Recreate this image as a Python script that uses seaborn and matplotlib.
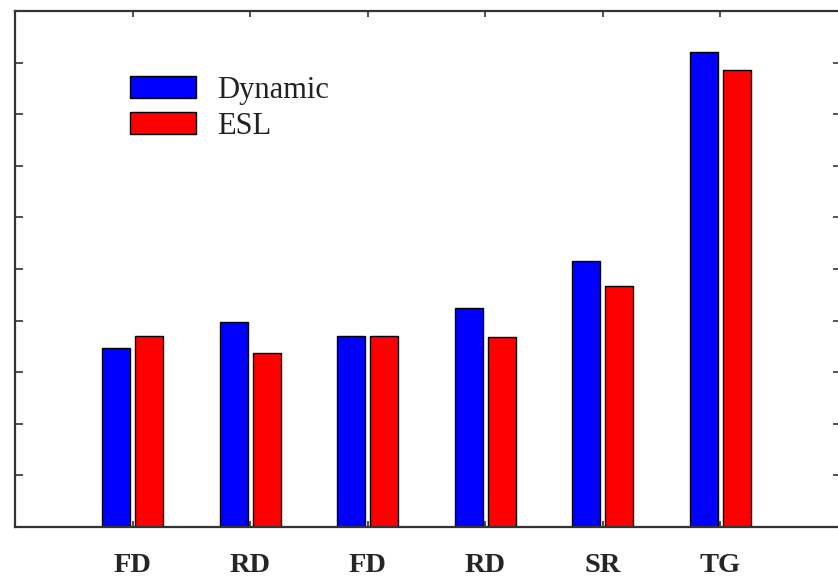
import matplotlib
matplotlib.use("Agg")
import matplotlib.pyplot as plt
import seaborn as sns
import pandas as pd

# ---- data ----
categories = ["FD", "RD", "FD", "RD", "SR", "TG"]
dynamic = [3.47, 3.97, 3.70, 4.24, 5.16, 9.21]
esl = [3.70, 3.38, 3.70, 3.68, 4.67, 8.85]
series_names = ["Dynamic", "ESL"]
colors = ["#0000FF", "#FF0000"]

keys = [f"{c}_{i}" for i, c in enumerate(categories)]
df = pd.DataFrame({
    "key": keys * 2,
    "value": dynamic + esl,
    "method": [series_names[0]] * len(keys) + [series_names[1]] * len(keys),
})

sns.set_theme(style="white")
plt.rcParams["font.family"] = ["Liberation Serif", "DejaVu Serif"]

fig = plt.figure(figsize=(8.38, 5.80), dpi=100)
ax = fig.add_axes([15 / 838, 1 - 527 / 580, 826 / 838, 516 / 580])

sns.barplot(data=df, x="key", y="value", hue="method", order=keys,
            hue_order=series_names, palette=colors, saturation=1,
            width=0.56, gap=0.15, edgecolor="black", linewidth=1.0,
            ax=ax)

ax.set_xlim(-1.0, 6.0 + 3 / 117.6)
ax.set_ylim(0, 10)
ax.set_yticks(range(0, 11))
ax.set_xticks(range(len(keys)))
ax.set_xticklabels(categories, fontsize=20.5, fontweight="bold",
                   family=["Liberation Serif", "DejaVu Serif"])
ax.set_xlabel("")
ax.set_ylabel("")

ax.tick_params(axis="y", direction="in", left=True, right=True,
               labelleft=False, length=6, width=1.2, color="#333333")
ax.tick_params(axis="x", direction="in", bottom=True, top=True,
               length=4, width=1.2, color="#333333", pad=19)

for s in ax.spines.values():
    s.set_visible(True)
    s.set_color("#333333")
    s.set_linewidth(1.6)

handles, labels = ax.get_legend_handles_labels()
if ax.get_legend() is not None:
    ax.get_legend().remove()
leg = fig.legend(handles, labels, loc="upper left",
                 bbox_to_anchor=(130 / 838, 1 - 76 / 580),
                 bbox_transform=fig.transFigure, frameon=False,
                 fontsize=22, handlelength=2.16, handleheight=0.74,
                 handletextpad=0.68, labelspacing=0.22, borderpad=0,
                 borderaxespad=0)
for t in leg.get_texts():
    t.set_color("#222222")
    t.set_family(["Liberation Serif", "DejaVu Serif"])

fig.savefig("out.png", dpi=100)
